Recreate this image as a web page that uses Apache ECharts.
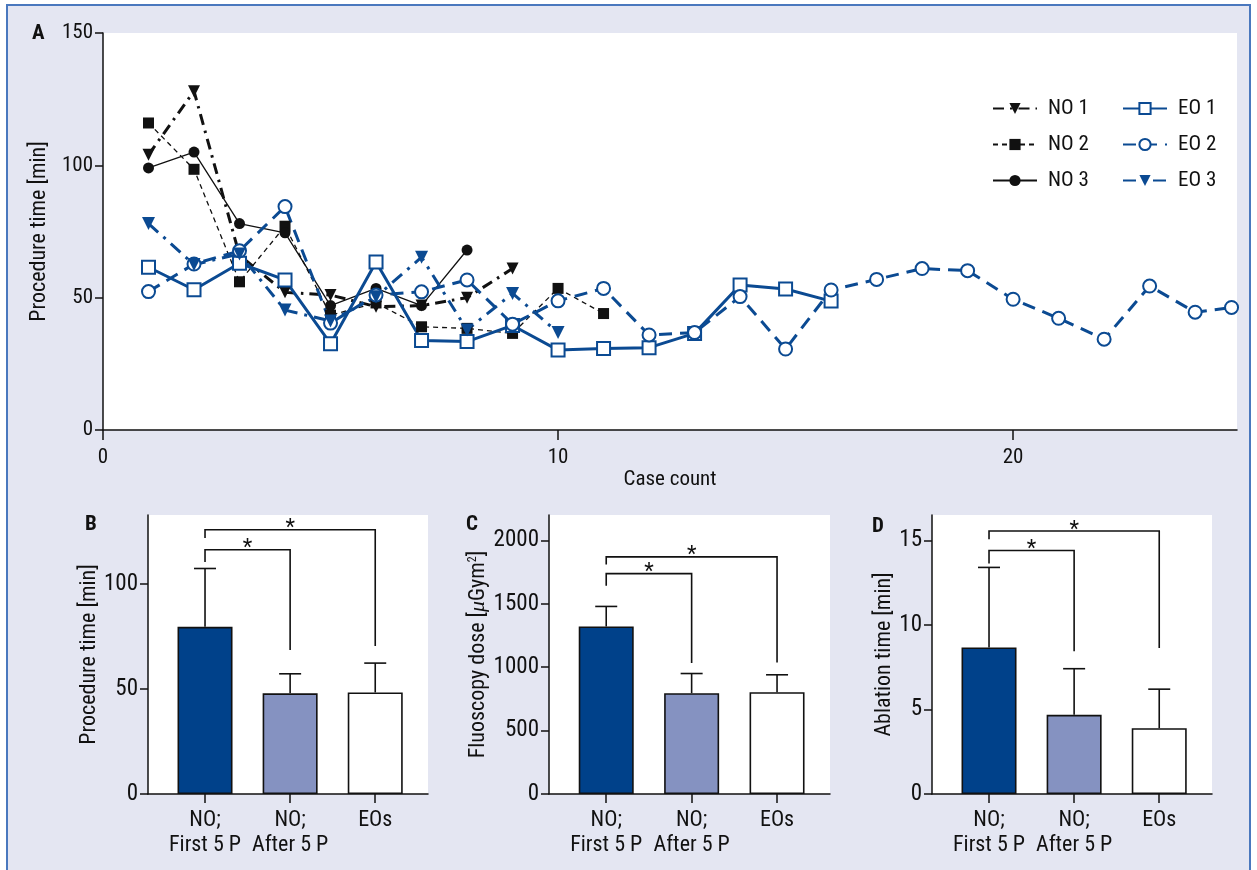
<!DOCTYPE html>
<html><head><meta charset="utf-8">
<script src="https://cdn.jsdelivr.net/npm/echarts@6/dist/echarts.min.js"></script>
<style>
html,body{margin:0;padding:0;background:#fff;}
#frame{position:absolute;left:6px;top:4px;width:1245px;height:880px;background:#e4e6f2;border:2px solid #4a78be;box-sizing:border-box;}
#c{position:absolute;left:0;top:0;width:1257px;height:870px;}
</style>
</head><body><div id="frame"></div><div id="c"></div>
<script>
const FONT = "'Liberation Sans Narrow','Arial Narrow','Roboto Condensed','Liberation Sans',sans-serif";
const BLUE = '#0b4a92';
const BLACK = '#111111';

// ---------- Panel A: procedure time by case count ----------
const caseTicks = [0, 10, 20];
const procTicksA = [0, 50, 100, 150];
const no1 = [104, 128, 66, 52, 51, 46.6, 47, 50, 61];
const no2 = [116, 98.5, 56, 77, 43.4, 48, 39, 38.4, 36.5, 53.5, 44];
const no3 = [99, 105, 78, 74.5, 47, 53.5, 47, 68];
const eo1 = [61.5, 53, 63, 56.7, 32.6, 63.5, 33.8, 33.4, 39.5, 30.2, 30.8, 31.1, 36.5, 54.8, 53.3, 48.7];
const eo2 = [52.3, 62.7, 67.7, 84.4, 40.4, 51, 52.2, 56.7, 40, 48.8, 53.5, 35.9, 36.8, 50.4, 30.6, 52.9, 56.9, 61, 60.2, 49.4, 42.2, 34.3, 54.4, 44.5, 46.3];
const eo2Cases = [1,2,3,4,5,6,7,8,9,10,11,12,13,14,15,16,17,18,19,20,21,22,23,24,24.8];
const eo3 = [78, 62.5, 66.5, 45.3, 41.2, 50.3, 65.3, 37.8, 51.6, 36.8];

// ---------- Panels B, C, D: bar charts ----------
const barCategories = ['NO;\nFirst 5 P', 'NO;\nAfter 5 P', 'EOs'];
const barPositions = [1, 2, 3];
const barColors = ['#00418a', '#8592c1', '#ffffff'];

const procMean = [79.7, 48, 48.4];
const procSD   = [107.5, 57.3, 62.4];
const procTicksB = [0, 50, 100];
// brackets: [from, to, bracket level, left foot, right foot]
const procBrackets = [[1, 2, 116.4, 110.6, 68.6], [1, 3, 126, 122, 70.5]];

const fluoMean = [1321, 795, 803];
const fluoSD   = [1479, 950, 940];
const fluoTicks = [0, 500, 1000, 1500, 2000];
const fluoBrackets = [[1, 2, 1738, 1643, 1032], [1, 3, 1870, 1809, 1037]];

const ablMean = [8.67, 4.68, 3.89];
const ablSD   = [13.4, 7.41, 6.2];
const ablTicks = [0, 5, 10, 15];
const ablBrackets = [[1, 2, 14.4, 13.63, 8.44], [1, 3, 15.55, 15.06, 8.64]];

// ---------- helpers ----------
const seq = n => Array.from({length: n}, (_, i) => i + 1);
const pairs = (xs, ys) => ys.map((v, i) => [xs[i], v]);
const axisLine = {show: true, lineStyle: {color: BLACK, width: 1.5}};

const grids = [
  {left: 103, top: 33, width: 1134, height: 397},
  {left: 148, top: 515, width: 280, height: 279},
  {left: 549, top: 515, width: 281, height: 279},
  {left: 932, top: 515, width: 280, height: 279}
].map(g => Object.assign(g, {show: true, backgroundColor: '#ffffff', borderWidth: 0}));

const xAxes = [
  {type: 'value', gridIndex: 0, min: 0, max: 24.92,
   axisLine, splitLine: {show: false},
   axisTick: {show: true, length: 10, lineStyle: {color: BLACK, width: 1.5}, customValues: caseTicks},
   axisLabel: {customValues: caseTicks, color: BLACK, fontSize: 21, fontFamily: FONT, margin: 17, formatter: v => String(v)},
   name: 'Case count', nameLocation: 'middle', nameGap: 36,
   nameTextStyle: {color: BLACK, fontSize: 21, fontFamily: FONT}}
];
[1, 2, 3].forEach(gi => xAxes.push({
  type: 'value', gridIndex: gi, min: 0.33, max: 3.62,
  axisLine, splitLine: {show: false},
  axisTick: {show: true, length: 9, lineStyle: {color: BLACK, width: 1.5}, customValues: barPositions},
  axisLabel: {customValues: barPositions, color: BLACK, fontSize: 22, fontFamily: FONT, margin: 14, lineHeight: 25,
              formatter: v => barCategories[Math.round(v) - 1]}
}));

function yAx(gi, max, ticks, name, gap, fs, rich) {
  const ax = {type: 'value', gridIndex: gi, min: 0, max: max,
    axisLine, splitLine: {show: false},
    axisTick: {show: true, length: 8, lineStyle: {color: BLACK, width: 1.5}, customValues: ticks},
    axisLabel: {customValues: ticks, color: BLACK, fontSize: fs, fontFamily: FONT, margin: 10, formatter: v => String(v)},
    name: name, nameLocation: 'middle', nameGap: gap, nameRotate: 90,
    nameTextStyle: {color: BLACK, fontSize: 22, fontFamily: FONT}};
  if (rich) ax.nameTextStyle.rich = rich;
  return ax;
}
const muRich = {
  a: {color: BLACK, fontSize: 22, fontFamily: FONT},
  m: {color: BLACK, fontSize: 22, fontFamily: 'Liberation Serif, serif', fontStyle: 'italic'},
  s: {color: BLACK, fontSize: 12, fontFamily: FONT, verticalAlign: 'top', padding: [0, 0, 10, 0]}
};
const yAxes = [
  yAx(0, 150, procTicksA, 'Procedure time [min]', 47, 21),
  yAx(1, 133, procTicksB, 'Procedure time [min]', 45, 23),
  yAx(2, 2200, fluoTicks, '{a|Fluoscopy dose [}{m|μ}{a|Gym}{s|2}{a|]}', 60, 23, muRich),
  yAx(3, 16.5, ablTicks, 'Ablation time [min]', 37, 23)
];

const series = [
  {name: 'NO 1', type: 'line', xAxisIndex: 0, yAxisIndex: 0, data: pairs(seq(no1.length), no1),
   symbol: 'triangle', symbolRotate: 180, symbolSize: 12,
   itemStyle: {color: BLACK}, lineStyle: {color: BLACK, width: 3, type: [11, 6, 2.5, 6]}},
  {name: 'NO 2', type: 'line', xAxisIndex: 0, yAxisIndex: 0, data: pairs(seq(no2.length), no2),
   symbol: 'rect', symbolSize: 11,
   itemStyle: {color: BLACK}, lineStyle: {color: BLACK, width: 1.3, type: [5, 4]}},
  {name: 'NO 3', type: 'line', xAxisIndex: 0, yAxisIndex: 0, data: pairs(seq(no3.length), no3),
   symbol: 'circle', symbolSize: 11,
   itemStyle: {color: BLACK}, lineStyle: {color: BLACK, width: 1.3, type: 'solid'}},
  {name: 'EO 1', type: 'line', xAxisIndex: 0, yAxisIndex: 0, data: pairs(seq(eo1.length), eo1),
   symbol: 'emptyRect', symbolSize: 13,
   itemStyle: {color: BLUE, borderWidth: 2}, lineStyle: {color: BLUE, width: 3, type: 'solid'}},
  {name: 'EO 2', type: 'line', xAxisIndex: 0, yAxisIndex: 0, data: pairs(eo2Cases, eo2),
   symbol: 'emptyCircle', symbolSize: 13,
   itemStyle: {color: BLUE, borderWidth: 2}, lineStyle: {color: BLUE, width: 3, type: [13, 8]}},
  {name: 'EO 3', type: 'line', xAxisIndex: 0, yAxisIndex: 0, data: pairs(seq(eo3.length), eo3),
   symbol: 'triangle', symbolRotate: 180, symbolSize: 13,
   itemStyle: {color: BLUE}, lineStyle: {color: BLUE, width: 3, type: [13, 7, 3, 7]}}
];

function addPanel(gi, means, sds, brackets) {
  series.push({
    type: 'custom', xAxisIndex: gi, yAxisIndex: gi,
    data: barPositions.map((p, i) => [p, means[i], sds[i]]),
    renderItem: (params, api) => {
      const a = api.coord([api.value(0), api.value(1)]);
      const b = api.coord([api.value(0), api.value(2)]);
      const st = {stroke: BLACK, lineWidth: 1.6};
      return {type: 'group', children: [
        {type: 'line', shape: {x1: a[0], y1: a[1], x2: b[0], y2: b[1]}, style: st},
        {type: 'line', shape: {x1: b[0] - 11, y1: b[1], x2: b[0] + 11, y2: b[1]}, style: st}
      ]};
    }, z: 1
  });
  series.push({
    type: 'bar', xAxisIndex: gi, yAxisIndex: gi, barWidth: 55,
    data: barPositions.map((p, i) => ({value: [p, means[i]], itemStyle: {color: barColors[i]}})),
    itemStyle: {borderColor: BLACK, borderWidth: 1.6}, z: 2
  });
  series.push({
    type: 'custom', xAxisIndex: gi, yAxisIndex: gi, data: brackets,
    renderItem: (params, api) => {
      const x1 = api.value(0), x2 = api.value(1), y = api.value(2);
      const p1 = api.coord([x1, api.value(3)]), p2 = api.coord([x1, y]);
      const p3 = api.coord([x2, y]), p4 = api.coord([x2, api.value(4)]);
      return {type: 'group', children: [
        {type: 'polyline', shape: {points: [p1, p2, p3, p4]}, style: {stroke: BLACK, lineWidth: 1.6, fill: null}},
        {type: 'text', style: {text: '*', x: (p2[0] + p3[0]) / 2, y: p2[1] - 1, align: 'center', verticalAlign: 'middle',
          fontSize: 22, fontFamily: FONT, fill: BLACK}}
      ]};
    }, z: 3
  });
}
addPanel(1, procMean, procSD, procBrackets);
addPanel(2, fluoMean, fluoSD, fluoBrackets);
addPanel(3, ablMean, ablSD, ablBrackets);

const legendBase = {orient: 'vertical', itemWidth: 44, itemHeight: 14, itemGap: 13,
  textStyle: {color: BLACK, fontSize: 21, fontFamily: FONT, lineHeight: 23, padding: [0, 0, 0, 6]}};

const letter = (t, x, y) => ({type: 'text', left: x, top: y,
  style: {text: t, fontSize: 21, fontWeight: 'bold', fontFamily: FONT, fill: BLACK}});

const option = {
  animation: false,
  grid: grids, xAxis: xAxes, yAxis: yAxes, series: series,
  legend: [
    Object.assign({left: 987, top: 92, data: ['NO 1', 'NO 2', 'NO 3']}, legendBase),
    Object.assign({left: 1117, top: 92, data: ['EO 1', 'EO 2', 'EO 3']}, legendBase)
  ],
  graphic: [letter('A', 32, 23), letter('B', 85, 514), letter('C', 466, 514), letter('D', 872, 516)]
};
const chart = echarts.init(document.getElementById('c'));
chart.setOption(option);
</script></body></html>
